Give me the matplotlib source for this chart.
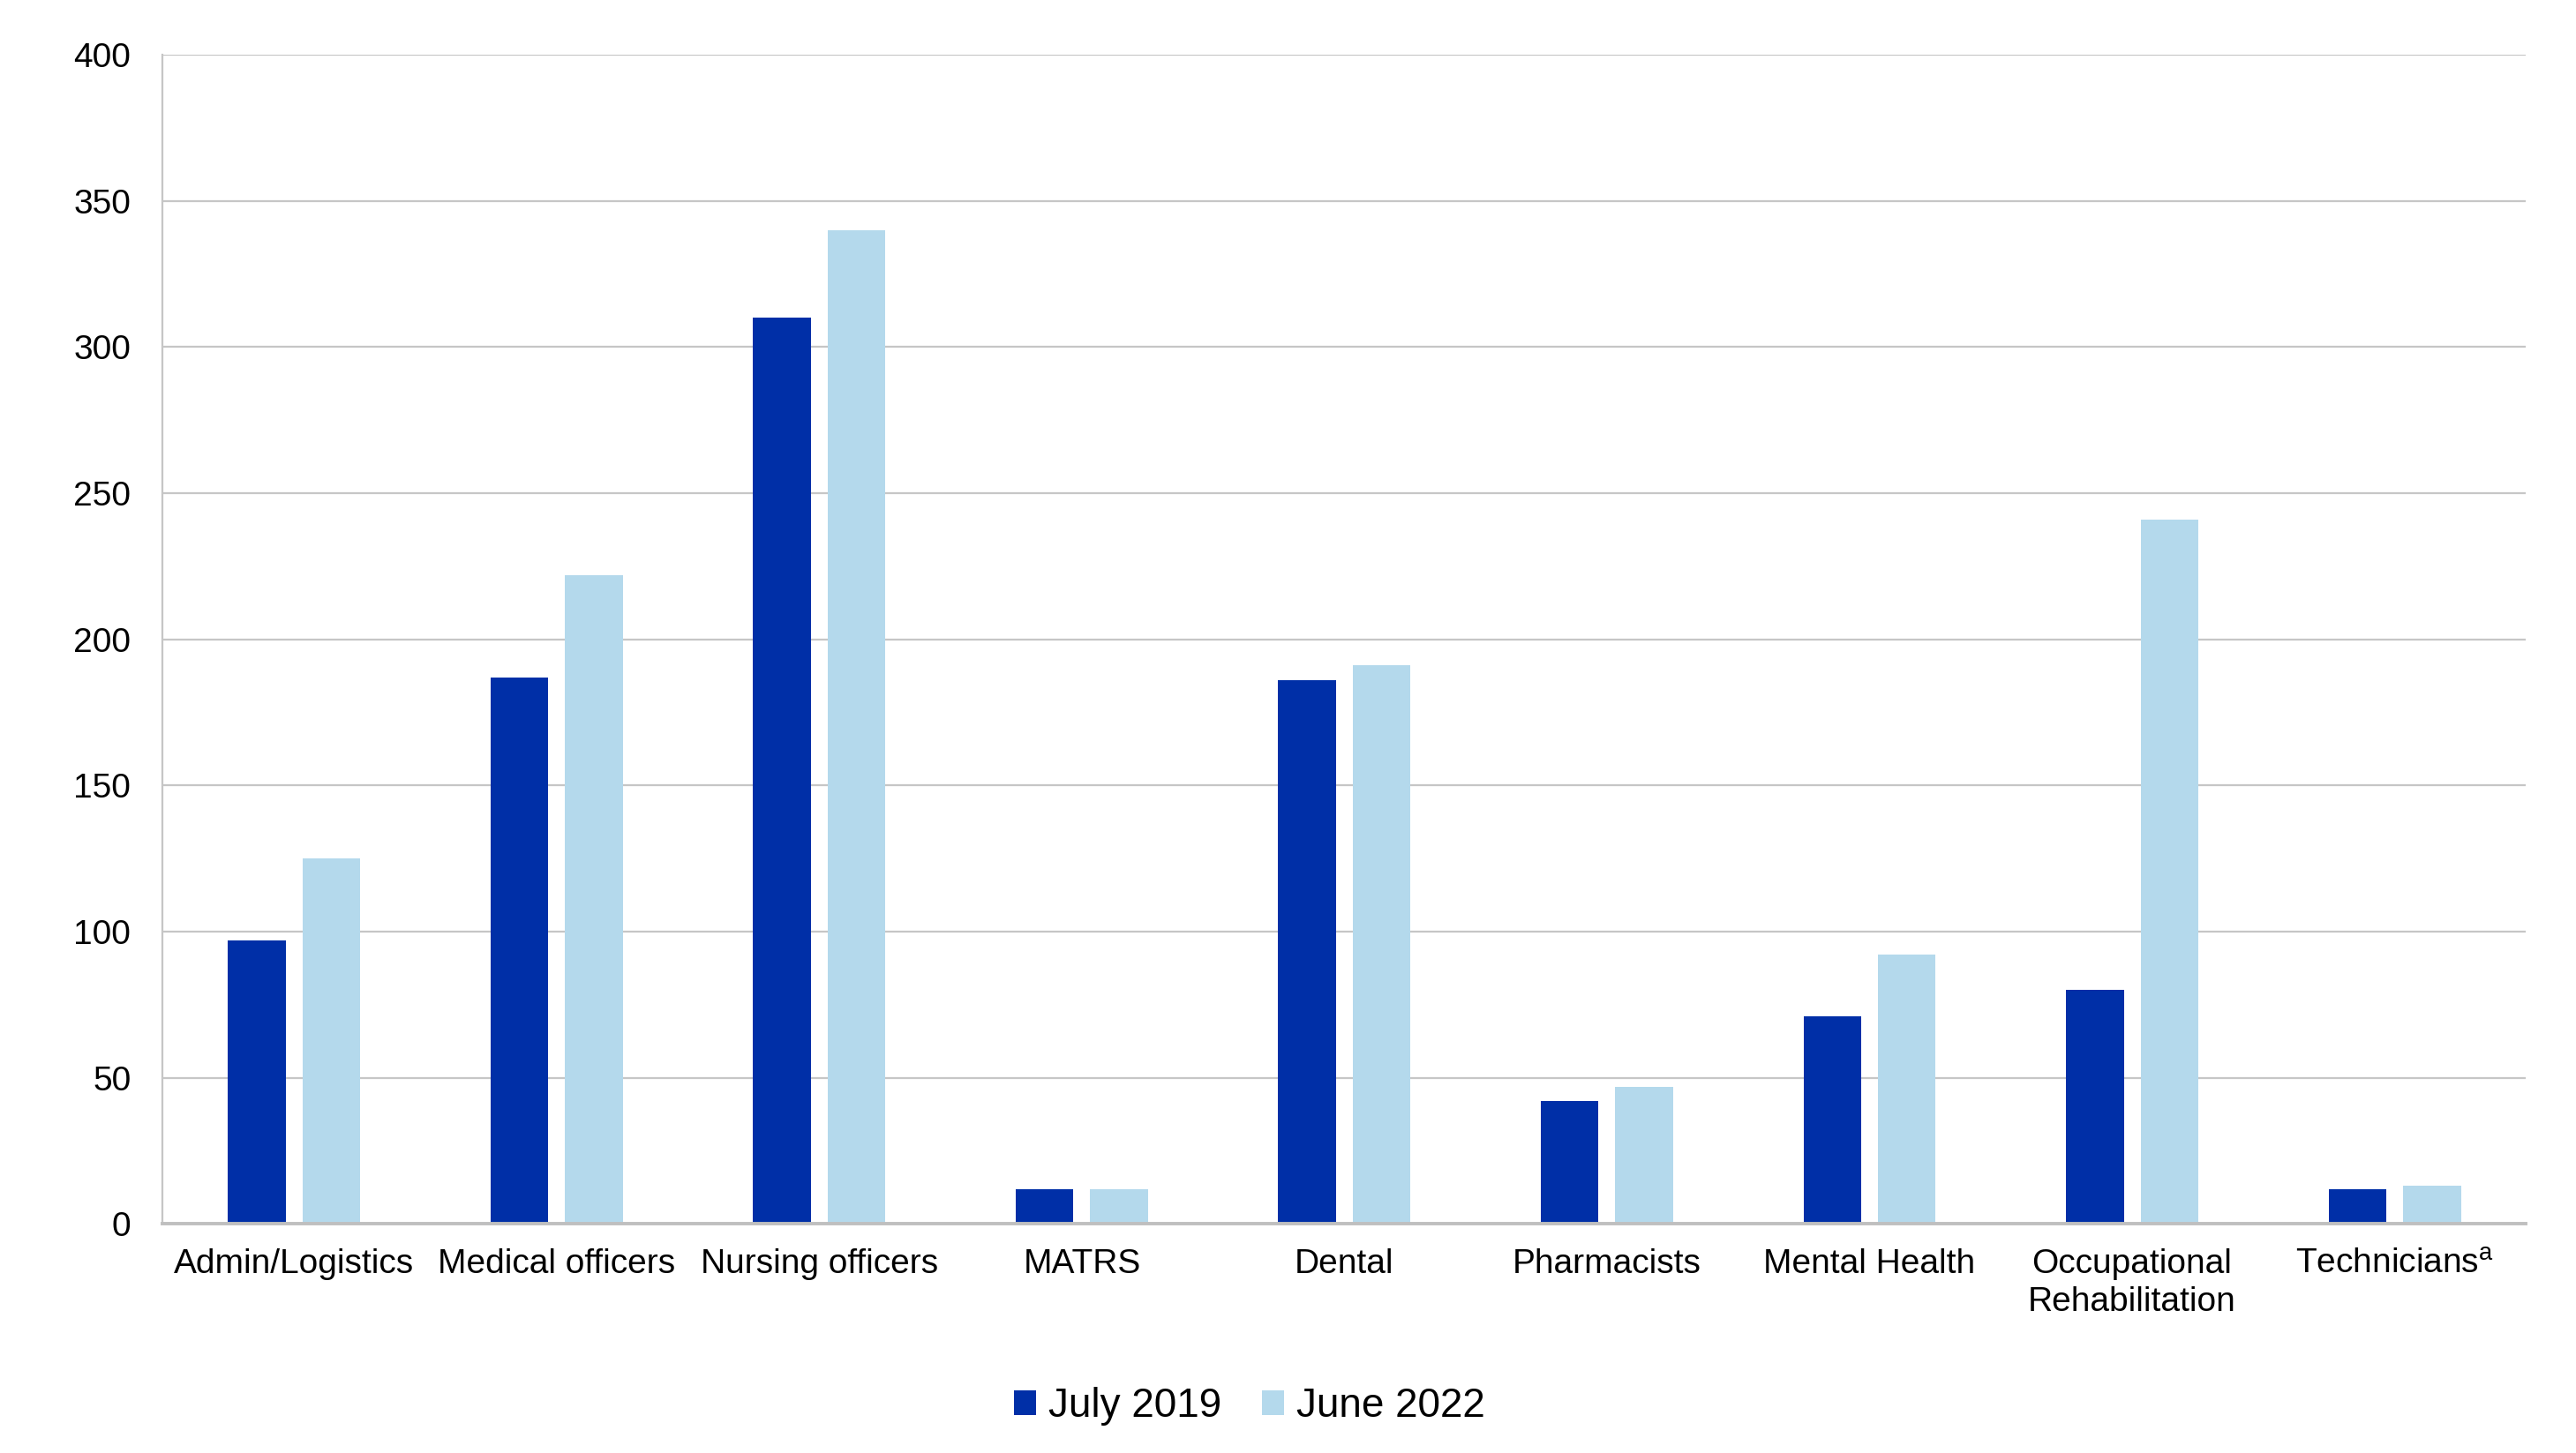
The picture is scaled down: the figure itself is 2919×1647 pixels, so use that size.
import numpy as np
import matplotlib
matplotlib.use('Agg')
import matplotlib.pyplot as plt

plt.rcParams['font.family'] = ['Liberation Sans', 'DejaVu Sans']
plt.rcParams['mathtext.fontset'] = 'custom'
plt.rcParams['mathtext.rm'] = 'Liberation Sans'

categories = ['Admin/Logistics', 'Medical officers', 'Nursing officers', 'MATRS', 'Dental',
              'Pharmacists', 'Mental Health', 'Occupational\nRehabilitation', r'Technicians$^{\mathrm{a}}$']
july_2019 = [97, 187, 310, 12, 186, 42, 71, 80, 12]
june_2022 = [125, 222, 340, 12, 191, 47, 92, 241, 13]
series_names = ['July 2019', 'June 2022']
yticks = [0, 50, 100, 150, 200, 250, 300, 350, 400]

dark = '#002FA7'
light = '#B4D9EC'
grid_col = '#C6C6C6'

fig = plt.figure(figsize=(14.595, 8.235), dpi=200)
ax = fig.add_axes([0.0632, 0.1577, 0.9174, 0.8046])

x = np.arange(len(categories))
w = 0.22
off = 0.142
ax.bar(x - off, july_2019, width=w, color=dark, label=series_names[0], zorder=3)
ax.bar(x + off, june_2022, width=w, color=light, label=series_names[1], zorder=3)

ax.set_xlim(-0.5, len(categories) - 0.5)
ax.set_ylim(0, 400)
ax.set_yticks(yticks)
ax.set_yticklabels([str(v) for v in yticks])
ax.set_xticks(x)
ax.set_xticklabels(categories, linespacing=1.25)
ax.tick_params(axis='both', length=0, labelsize=14)
ax.tick_params(axis='x', pad=10)
ax.tick_params(axis='y', pad=13)

ax.yaxis.grid(True, color=grid_col, linewidth=0.8, zorder=0)
ax.set_axisbelow(True)
for s in ['top', 'right']:
    ax.spines[s].set_visible(False)
ax.spines['left'].set_color(grid_col)
ax.spines['left'].set_linewidth(0.8)
ax.spines['bottom'].set_color('#BFBFBF')
ax.spines['bottom'].set_linewidth(1.4)
ax.spines['bottom'].set_zorder(4)

fig.legend(loc='center', bbox_to_anchor=(0.485, 0.032), ncol=2, frameon=False,
           fontsize=16.5, handlelength=0.55, handleheight=0.55, handletextpad=0.3,
           columnspacing=1.0)

fig.savefig('out.png', dpi=200, facecolor='white')
